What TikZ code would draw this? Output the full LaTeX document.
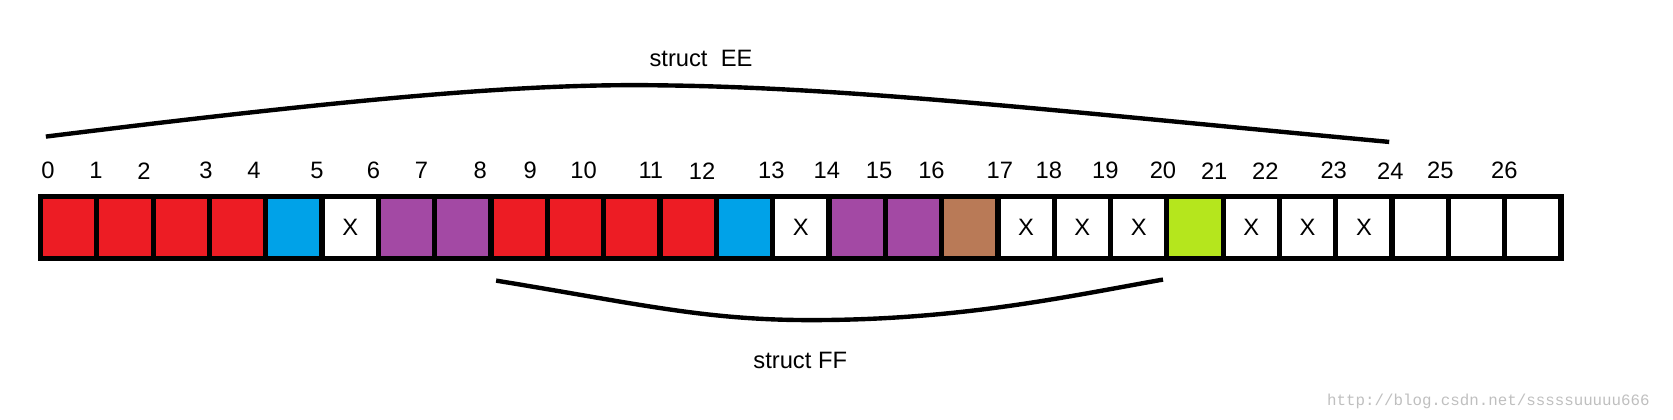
\documentclass[tikz,border=0pt]{standalone}
\usepackage{fontspec}
\setmainfont{Liberation Sans}
\setmonofont{Liberation Mono}
\definecolor{cred}{HTML}{ED1C24}
\definecolor{cblue}{HTML}{00A2E8}
\definecolor{cpurple}{HTML}{A349A4}
\definecolor{cbrown}{HTML}{B97A57}
\definecolor{cgreen}{HTML}{B5E61D}
\tikzset{
  cell/.style={draw=black,line width=3pt},
  idx/.style={font=\fontsize{13.5}{15}\selectfont},
  brace/.style={line width=2.5pt}
}
\begin{document}
\begin{tikzpicture}[x=0.02134cm,y=-0.02134cm]
  \useasboundingbox(0,0)rectangle(1568,393);
  % cells
  \foreach \i/\c in {0/cred,1/cred,2/cred,3/cred,4/cblue,5/white,6/cpurple,7/cpurple,8/cred,9/cred,10/cred,11/cred,12/cblue,13/white,14/cpurple,15/cpurple,16/cbrown,17/white,18/white,19/white,20/cgreen,21/white,22/white,23/white,24/white,25/white,26/white}
    \draw[cell,fill=\c](38+\i*52.78,184)rectangle(38+\i*52.78+52.78,242);
  \foreach \i in {5,13,17,18,19,21,22,23}
    \node[idx] at (38+\i*52.78+26.4,213){X};
  % indices
  \foreach \n/\x in {0/45,1/90,2/135,3/193,4/238,5/297,6/350,7/395,8/450,9/497,10/547,11/610,12/658,13/723,14/775,15/824,16/873,17/937,18/983,19/1036,20/1090,21/1138,22/1186,23/1250,24/1303,25/1350,26/1410}
    \node[idx] at (\x,160){\n};
  % struct EE
  \draw[brace](43,128) .. controls (350,90) and (500,78) .. (620,80) .. controls (800,82) and (1000,105) .. (1302,133);
  \node[idx] at (657,55){struct\ \ EE};
  % struct FF
  \draw[brace](465,263) .. controls (600,285) and (660,300) .. (760,300) .. controls (900,300) and (1000,278) .. (1090,262);
  \node[idx] at (750,338){struct FF};
  \node[font=\ttfamily\small,text=black!25] at (1395,376){http://blog.csdn.net/sssssuuuuu666};
\end{tikzpicture}
\end{document}
